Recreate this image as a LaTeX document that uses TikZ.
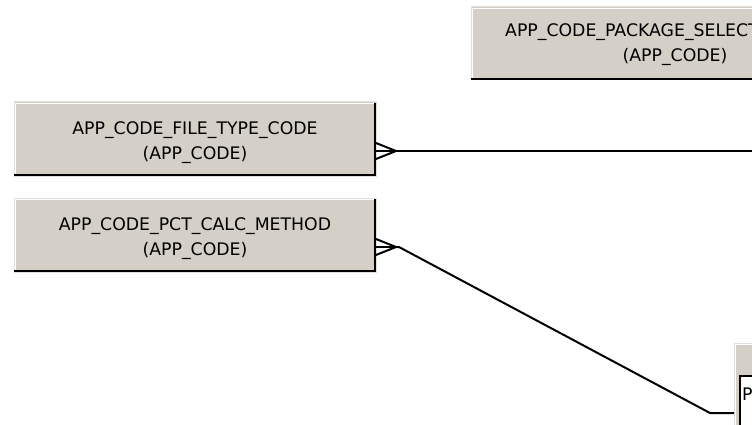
\documentclass[tikz,border=0pt]{standalone}
\usepackage{fontspec}
\setmainfont{DejaVu Sans}
\usetikzlibrary{calc}
\definecolor{entgray}{HTML}{D4D0C8}
\definecolor{entedge}{HTML}{E2DFDA}
\tikzset{
  entity/.style={rectangle,fill=entgray,draw=entedge,line width=1pt,outer sep=0pt,inner sep=0pt},
  lbl/.style={anchor=base,inner sep=0pt,font=\fontsize{17.3}{25}\selectfont},
  shine/.style={draw=white,line width=1pt},
  shade/.style={draw=black,line width=2pt},
  rel/.style={line width=2pt}
}
\begin{document}
\begin{tikzpicture}[x=1pt,y=-1pt]
\useasboundingbox(0,0)rectangle(752,425);
\clip(0,0)rectangle(752,425);

%entities
\node[entity,minimum width=408,minimum height=73](pkgsel)at(675,43.5){};
\node[entity,minimum width=362,minimum height=74](ftype)at(195,139){};
\node[entity,minimum width=362,minimum height=74](pctcalc)at(195,235){};
\node[entity,anchor=north west,minimum width=120,minimum height=120](pctref)at(734,343){};
\node[anchor=north west,fill=white,inner sep=0pt,outer sep=0pt,minimum width=100,minimum height=80](pctbody)at(739,375){};

%bevels
\foreach \b in {pkgsel,ftype,pctcalc}{
\draw[shine]([shift={(1.5pt,1.5pt)}]\b.south west)|-([shift={(-1.5pt,-1.5pt)}]\b.north east);
\draw[shade]([shift={(-1pt,-1pt)}]\b.north east)|-([shift={(0pt,1pt)}]\b.south west);
}
\draw[shine]([xshift=1.5pt]pctref.south west)|-([yshift=-1.5pt]pctref.north east);
\draw[shade]([xshift=1pt]pctbody.south west)|-([yshift=-1pt]pctbody.north east);

%labels
\node[lbl,anchor=base west](pkgselname)at(505,37){APP\_CODE\_PACKAGE\_SELECTION};
\node[lbl](pkgselkey)at(675,62){(APP\_CODE)};
\node[lbl](ftypename)at(195,135){APP\_CODE\_FILE\_TYPE\_CODE};
\node[lbl](ftypekey)at(195,160){(APP\_CODE)};
\node[lbl](pctcalcname)at(195,230){APP\_CODE\_PCT\_CALC\_METHOD};
\node[lbl](pctcalckey)at(195,255){(APP\_CODE)};
\node[lbl,anchor=base west](pctreftxt)at(742,400){P};

%relations
\coordinate(ftfoot)at([shift={(20pt,-12pt)}]ftype.east);
\coordinate(ftend)at(760,151);
\foreach \d in {-4,-12,-20}{
\draw[rel]([yshift=\d pt]ftype.east)--(ftfoot);
}
\draw[rel](ftfoot)--(ftend);

\coordinate(pcfoot)at([shift={(20pt,-12pt)}]pctcalc.east);
\coordinate(pcbend)at(710,413);
\foreach \d in {-4,-12,-20}{
\draw[rel]([yshift=\d pt]pctcalc.east)--(pcfoot);
}
\draw[rel](pcfoot)--++(3,0)--(pcbend)--([yshift=-70pt]pctref.north west);

\end{tikzpicture}
\end{document}
